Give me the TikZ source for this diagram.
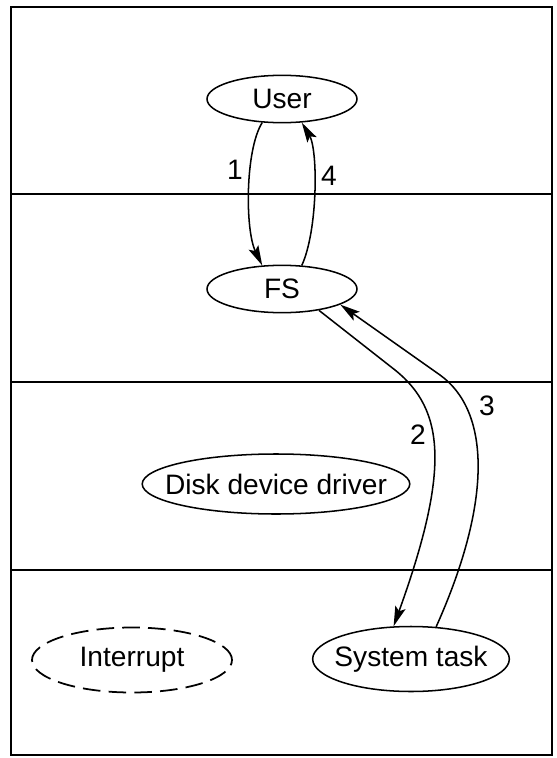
\documentclass[tikz,border=0pt]{standalone}
\usepackage{fontspec}
\setmainfont{Liberation Sans}
\usepackage{tikz}
\usetikzlibrary{arrows.meta, shapes.geometric}

\begin{document}
\begin{tikzpicture}[
    x=0.03cm, y=-0.03cm,
    task/.style={draw, ellipse, line width=1.3pt, inner sep=0pt,
                 font=\fontsize{24}{28}\selectfont},
    layer/.style={line width=1.2pt},
    arr/.style={-{Stealth[length=6mm, width=3.2mm, inset=1.2mm]}, line width=1.3pt},
    num/.style={font=\fontsize{24}{28}\selectfont},
]
\useasboundingbox (0,0) rectangle (556,758);

% Layers
\draw[line width=2pt] (11,7) rectangle (552,755);
\coordinate (l1w) at (11,194);  \coordinate (l1e) at (552,194);
\coordinate (l2w) at (11,382);  \coordinate (l2e) at (552,382);
\coordinate (l3w) at (11,570);  \coordinate (l3e) at (552,570);
\draw[layer] (l1w) -- (l1e);
\draw[layer] (l2w) -- (l2e);
\draw[layer] (l3w) -- (l3e);

% Processes
\node[task, minimum width=4.5cm, minimum height=1.42cm] (user) at (282,99) {User};
\node[task, minimum width=4.5cm, minimum height=1.42cm] (fs) at (282,289) {FS};
\node[task, inner xsep=-0.49cm, minimum width=8.0cm, minimum height=1.8cm] (disk) at (276,484) {Disk device driver};
\node[task, dashed, line width=1.5pt, dash pattern=on 15pt off 7pt, minimum width=6.0cm, minimum height=1.95cm] (intr) at (132,660) {Interrupt};
\node[task, inner xsep=-0.22cm, minimum width=5.9cm, minimum height=1.95cm] (sys) at (411,659) {System task};

% Messages
\draw[arr] (user.-130) .. controls (245,150) and (245,230) .. (fs.130);
\draw[arr] (fs.50) .. controls (318,230) and (318,150) .. (user.-50);
\draw[arr] (fs.-30) -- (395,370) .. controls (445,410) and (450,470) .. (sys.118);
\draw[arr] (sys.52) .. controls (493,500) and (490,411) .. (440,375) -- (fs.-15);

\node[num] (n1) at (235,170) {1};
\node[num] (n4) at (329,176) {4};
\node[num] (n2) at (418,435) {2};
\node[num] (n3) at (487,406) {3};

\end{tikzpicture}
\end{document}
